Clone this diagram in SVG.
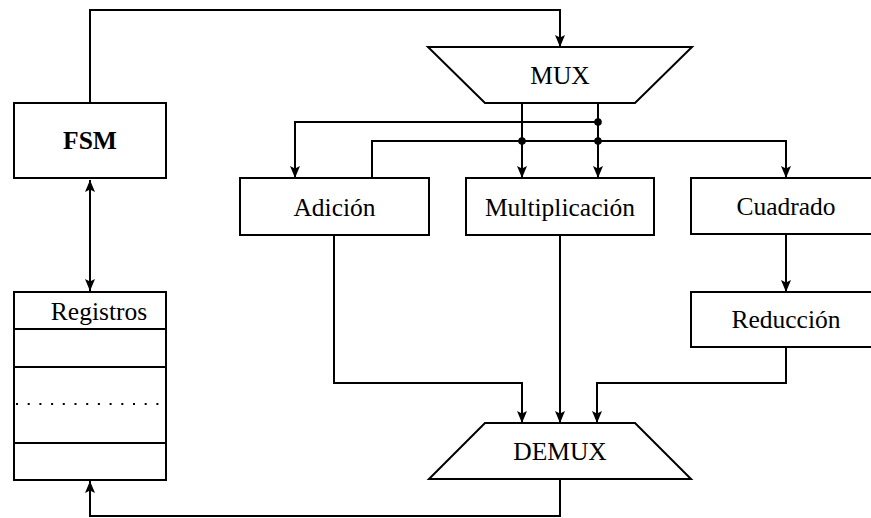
<svg xmlns="http://www.w3.org/2000/svg" width="871" height="518" viewBox="0 0 871 518">
  <style>
    .box { fill: #fff; stroke: #000; stroke-width: 2; }
    .wire { fill: none; stroke: #000; stroke-width: 2; }
    .dot { fill: #000; }
  </style>
  <defs>
    <marker id="arrow" markerUnits="userSpaceOnUse" viewBox="0 0 12 10" refX="12" refY="5" markerWidth="12" markerHeight="10" orient="auto-start-reverse">
      <path d="M0,0 L12,5 L0,10 L2.5,5 Z" fill="#000"/>
    </marker>
  </defs>

  <!-- connectors -->
  <g id="connectors">
    <!-- FSM control to MUX -->
    <polyline class="wire" points="90,103 90,10 560,10 560,47" marker-end="url(#arrow)"/>
    <!-- FSM <-> Registros -->
    <line class="wire" x1="90" y1="180" x2="90" y2="291" marker-start="url(#arrow)" marker-end="url(#arrow)"/>
    <!-- MUX outputs -->
    <line class="wire" x1="522" y1="103" x2="522" y2="178" marker-end="url(#arrow)"/>
    <line class="wire" x1="598" y1="103" x2="598" y2="178" marker-end="url(#arrow)"/>
    <polyline class="wire" points="598,122 295,122 295,178" marker-end="url(#arrow)"/>
    <polyline class="wire" points="372,178 372,141 786,141 786,178" marker-end="url(#arrow)"/>
    <circle class="dot" cx="598" cy="122" r="3.8"/>
    <circle class="dot" cx="522" cy="141" r="3.8"/>
    <circle class="dot" cx="598" cy="141" r="3.8"/>
    <!-- Cuadrado to Reducción -->
    <line class="wire" x1="786" y1="234" x2="786" y2="292" marker-end="url(#arrow)"/>
    <!-- results into DEMUX -->
    <polyline class="wire" points="334,235 334,383 522,383 522,423" marker-end="url(#arrow)"/>
    <line class="wire" x1="560" y1="235" x2="560" y2="423" marker-end="url(#arrow)"/>
    <polyline class="wire" points="786,347 786,383 597,383 597,423" marker-end="url(#arrow)"/>
    <!-- DEMUX back to Registros -->
    <polyline class="wire" points="560,479 560,516 90,516 90,481" marker-end="url(#arrow)"/>
  </g>

  <g font-family="Liberation Serif, Tinos, Times New Roman, Nimbus Roman, DejaVu Serif, Noto Serif, serif" font-size="25.5" text-anchor="middle" fill="#000">
    <g id="mux">
      <polygon class="box" points="428,47 692,47 635,103 485,103"/>
      <text x="560" y="84">MUX</text>
    </g>

    <g id="fsm">
      <rect class="box" x="14" y="103" width="152" height="75"/>
      <text font-weight="bold" x="90" y="149">FSM</text>
    </g>

    <g id="registros">
      <rect class="box" x="14" y="292" width="152" height="188"/>
      <line class="wire" x1="14" y1="329" x2="166" y2="329"/>
      <line class="wire" x1="14" y1="367" x2="166" y2="367"/>
      <line class="wire" x1="14" y1="443" x2="166" y2="443"/>
      <line class="wire" x1="16" y1="404" x2="160" y2="404" stroke-dasharray="2 9.7"/>
      <text x="99" y="320">Registros</text>
    </g>

    <g id="adicion">
      <rect class="box" x="240" y="178" width="189" height="57"/>
      <text x="334.5" y="216">Adición</text>
    </g>

    <g id="multiplicacion">
      <rect class="box" x="466" y="178" width="188" height="57"/>
      <text x="560" y="216">Multiplicación</text>
    </g>

    <g id="cuadrado">
      <rect class="box" x="691" y="178" width="190" height="56"/>
      <text x="786" y="215">Cuadrado</text>
    </g>

    <g id="reduccion">
      <rect class="box" x="691" y="292" width="190" height="55"/>
      <text x="786" y="328">Reducción</text>
    </g>

    <g id="demux">
      <polygon class="box" points="485,423 635,423 691,479 429,479"/>
      <text x="560" y="460">DEMUX</text>
    </g>
  </g>
</svg>
